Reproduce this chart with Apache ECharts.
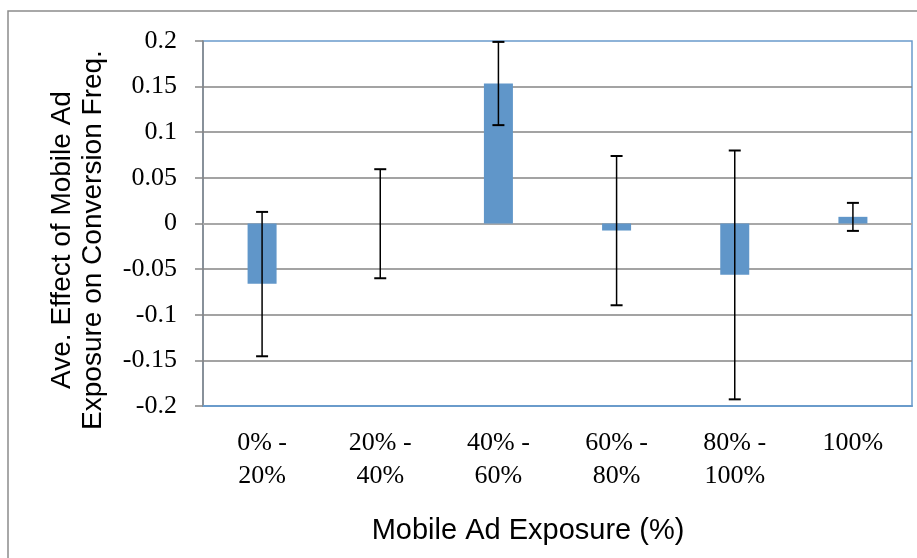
<!DOCTYPE html>
<html>
<head>
<meta charset="utf-8">
<script src="https://cdn.jsdelivr.net/npm/echarts@6/dist/echarts.min.js"></script>
<style>
html,body{margin:0;padding:0;background:#fff;}
#c{width:917px;height:558px;}
</style>
</head>
<body>
<div id="c"></div>
<script>
var categories = ['0% -\n20%', '20% -\n40%', '40% -\n60%', '60% -\n80%', '80% -\n100%', '100%'];
var values = [-0.066, 0, 0.1535, -0.0077, -0.0563, 0.0073];
var errLow = [-0.1455, -0.060, 0.1078, -0.0896, -0.1927, -0.0081];
var errHigh = [0.0127, 0.0595, 0.199, 0.074, 0.080, 0.0226];
var yTitle = 'Ave. Effect of Mobile Ad\nExposure on Conversion Freq.';
var xTitle = 'Mobile Ad Exposure (%)';

var errData = categories.map(function (c, i) { return [i, errLow[i], errHigh[i]]; });

var chart = echarts.init(document.getElementById('c'), null, {renderer: 'canvas'});
chart.setOption({
  animation: false,
  backgroundColor: '#fff',
  grid: {left: 203, right: 5, top: 41, bottom: 152, show: true, borderColor: '#6a9bcb', borderWidth: 1.5, containLabel: false},
  xAxis: {
    type: 'category', data: categories,
    axisLine: {onZero: false, lineStyle: {color: '#6a9bcb', width: 2}},
    axisTick: {show: false},
    axisLabel: {color: '#000', fontFamily: 'Liberation Serif', fontSize: 26, lineHeight: 33, margin: 21, interval: 0}
  },
  yAxis: {
    type: 'value', min: -0.2, max: 0.2, interval: 0.05,
    axisLine: {show: true, lineStyle: {color: '#868686', width: 1.5}},
    axisTick: {show: true, length: 8, lineStyle: {color: '#868686', width: 1.5}},
    axisLabel: {color: '#000', fontFamily: 'Liberation Serif', fontSize: 26, margin: 26},
    splitLine: {show: true, showMinLine: false, showMaxLine: false, lineStyle: {color: '#858585', width: 1.5}}
  },
  series: [
    {
      type: 'bar', data: values, barWidth: 29,
      itemStyle: {color: '#6096c9'},
      markLine: {silent: true, symbol: 'none', label: {show: false},
        lineStyle: {color: '#a8a8a8', width: 2, type: 'solid'}, data: [{yAxis: 0}], z: 1},
      z: 2
    },
    {
      type: 'custom', data: errData, z: 5,
      renderItem: function (params, api) {
        var x = api.value(0);
        var lo = api.coord([x, api.value(1)]);
        var hi = api.coord([x, api.value(2)]);
        var cw = 6;
        var st = {stroke: '#000', lineWidth: 1.5};
        return {type: 'group', children: [
          {type: 'line', shape: {x1: lo[0], y1: lo[1], x2: hi[0], y2: hi[1]}, style: st},
          {type: 'line', shape: {x1: lo[0] - cw, y1: lo[1], x2: lo[0] + cw, y2: lo[1]}, style: {stroke: '#000', lineWidth: 2}},
          {type: 'line', shape: {x1: hi[0] - cw, y1: hi[1], x2: hi[0] + cw, y2: hi[1]}, style: {stroke: '#000', lineWidth: 2}}
        ]};
      }
    }
  ],
  graphic: [
    {type: 'rect', shape: {x: 8, y: 11, width: 930, height: 600}, style: {fill: 'none', stroke: '#8c8c8c', lineWidth: 1.5}, z: -10},
    {type: 'text', x: 78, y: 240, rotation: Math.PI / 2,
      style: {text: yTitle, fontFamily: 'Liberation Sans', fontSize: 28, lineHeight: 31, fill: '#000', align: 'center', verticalAlign: 'middle'}},
    {type: 'text', x: 528, y: 531,
      style: {text: xTitle, fontFamily: 'Liberation Sans', fontSize: 29, fill: '#000', align: 'center', verticalAlign: 'middle'}}
  ]
});
</script>
</body>
</html>
